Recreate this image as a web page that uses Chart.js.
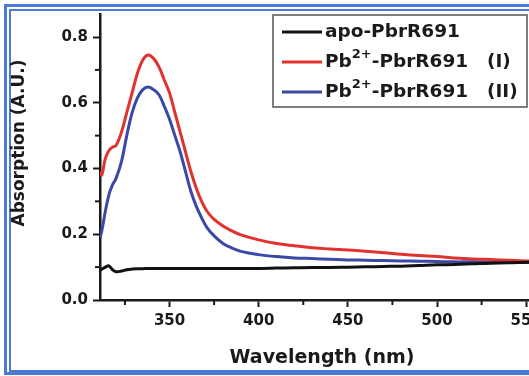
<!DOCTYPE html>
<html>
<head>
<meta charset="utf-8">
<script src="https://cdn.jsdelivr.net/npm/chart.js@4.4.1/dist/chart.umd.min.js"></script>
<style>
  html, body { margin: 0; padding: 0; background: #fff; }
  #wrap { position: relative; width: 529px; height: 376px; overflow: hidden; background: #fff; }
  .frame { position: absolute; box-sizing: border-box; border-style: solid; border-color: #4a79d6; }
  #outer { left: 4px; top: 4px; width: 700px; height: 371px; border-width: 3px; }
  #inner { left: 9px; top: 9px; width: 700px; height: 363px; border-width: 2px; }
  #c { position: absolute; left: 0; top: 0; }
</style>
</head>
<body>
<div id="wrap">
  <div class="frame" id="outer"></div>
  <div class="frame" id="inner"></div>
  <canvas id="c" width="560" height="376"></canvas>
</div>
<script>
// ── UV-vis absorption spectra ──

const wavelength = [311,312,314,316,318,320,323,326,329,332,335,338,341,344,347,350,353,356,359,362,365,368,371,375,380,385,390,400,410,420,430,440,450,460,470,480,490,500,510,520,530,540,550,560];
const apo   = [0.092,0.094,0.100,0.104,0.092,0.086,0.088,0.092,0.094,0.095,0.095,0.096,0.096,0.096,0.096,0.096,0.096,0.096,0.096,0.096,0.096,0.096,0.096,0.096,0.096,0.096,0.096,0.096,0.097,0.098,0.099,0.099,0.100,0.101,0.102,0.103,0.105,0.107,0.108,0.110,0.112,0.113,0.115,0.116];
const pbI   = [0.390,0.380,0.430,0.455,0.465,0.470,0.510,0.570,0.630,0.690,0.730,0.745,0.735,0.710,0.670,0.630,0.570,0.510,0.450,0.390,0.340,0.300,0.270,0.245,0.225,0.210,0.198,0.183,0.172,0.165,0.159,0.155,0.152,0.148,0.144,0.139,0.135,0.132,0.128,0.125,0.123,0.121,0.119,0.118];
const pbII  = [0.190,0.210,0.270,0.320,0.350,0.370,0.420,0.500,0.570,0.615,0.640,0.648,0.640,0.625,0.590,0.550,0.500,0.450,0.390,0.330,0.285,0.250,0.220,0.195,0.172,0.158,0.148,0.138,0.132,0.128,0.126,0.124,0.122,0.121,0.120,0.119,0.118,0.117,0.116,0.116,0.115,0.115,0.114,0.114];

const xMajor = [350,400,450,500,550];
const xMinor = [325,375,425,475,525];
const yMajor = [0,0.2,0.4,0.6,0.8];
const yMinor = [0.1,0.3,0.5,0.7];

const FONT = '"DejaVu Sans", sans-serif';
const INK = '#1a1a1a';

const series = [
  { label: 'apo-PbrR691', data: apo, color: '#111111' },
  { label: 'Pb|2+|-PbrR691|(I)', data: pbI, color: '#e0332f' },
  { label: 'Pb|2+|-PbrR691|(II)', data: pbII, color: '#3a48a8' }
];

const extras = {
  id: 'extras',
  afterDraw(chart) {
    const ctx = chart.ctx, x = chart.scales.x, y = chart.scales.y;
    ctx.save();
    // minor ticks
    ctx.strokeStyle = INK; ctx.lineWidth = 2;
    xMinor.forEach(v => {
      const px = x.getPixelForValue(v);
      ctx.beginPath(); ctx.moveTo(px, x.top); ctx.lineTo(px, x.top + 5); ctx.stroke();
    });
    yMinor.forEach(v => {
      const py = y.getPixelForValue(v);
      ctx.beginPath(); ctx.moveTo(y.right, py); ctx.lineTo(y.right - 5, py); ctx.stroke();
    });
    // axis titles
    ctx.fillStyle = INK;
    ctx.textAlign = 'center'; ctx.textBaseline = 'middle';
    ctx.font = 'bold 19px ' + FONT;
    ctx.fillText('Wavelength (nm)', 322, 358);
    ctx.translate(20, 143); ctx.rotate(-Math.PI / 2);
    ctx.font = 'bold 17px ' + FONT;
    ctx.fillText('Absorption (A.U.)', 0, 0);
    ctx.restore();

    // legend box
    ctx.save();
    ctx.fillStyle = '#fff';
    ctx.fillRect(273, 15, 254, 92);
    ctx.strokeStyle = '#555'; ctx.lineWidth = 1.5;
    ctx.strokeRect(273, 15, 254, 92);
    series.forEach((s, i) => {
      const ry = 32 + i * 30;
      ctx.strokeStyle = s.color; ctx.lineWidth = 3;
      ctx.beginPath(); ctx.moveTo(282, ry); ctx.lineTo(322, ry); ctx.stroke();
      ctx.fillStyle = INK; ctx.textBaseline = 'middle'; ctx.textAlign = 'left';
      const parts = s.label.split('|');
      let tx = 325;
      ctx.font = 'bold 18.5px ' + FONT;
      if (parts.length === 1) {
        ctx.fillText(parts[0], tx, ry);
      } else {
        ctx.fillText(parts[0], tx, ry); tx += ctx.measureText(parts[0]).width;
        ctx.font = 'bold 13px ' + FONT;
        ctx.fillText(parts[1], tx, ry - 7); tx += ctx.measureText(parts[1]).width;
        ctx.font = 'bold 18.5px ' + FONT;
        ctx.fillText(parts[2], tx, ry);
        ctx.fillText(parts[3], 487, ry);
      }
    });
    ctx.restore();
  }
};

new Chart(document.getElementById('c').getContext('2d'), {
  type: 'line',
  data: {
    datasets: series.map(s => ({
      label: s.label,
      data: wavelength.map((w, i) => ({ x: w, y: s.data[i] })),
      borderColor: s.color, borderWidth: 3, pointRadius: 0, tension: 0.4, fill: false
    }))
  },
  options: {
    responsive: false, animation: false,
    layout: { padding: { top: 10, right: 16, left: 0, bottom: 0 } },
    plugins: { legend: { display: false }, tooltip: { enabled: false } },
    scales: {
      x: {
        type: 'linear', min: 311, max: 560,
        afterBuildTicks: s => { s.ticks = xMajor.map(v => ({ value: v })); },
        afterFit: s => { s.height = 76; },
        ticks: { font: { family: FONT, size: 15, weight: 'bold' }, color: INK, padding: 5, maxRotation: 0, autoSkip: false, callback: v => v },
        grid: { drawOnChartArea: false, drawTicks: true, tickLength: 7, tickWidth: 2, tickColor: INK },
        border: { color: INK, width: 2.5 }
      },
      y: {
        min: 0, max: 0.87,
        afterBuildTicks: s => { s.ticks = yMajor.map(v => ({ value: v })); },
        afterFit: s => { s.width = 100; },
        ticks: { font: { family: FONT, size: 15, weight: 'bold' }, color: INK, padding: 5, callback: v => v.toFixed(1) },
        grid: { drawOnChartArea: false, drawTicks: true, tickLength: 7, tickWidth: 2, tickColor: INK },
        border: { color: INK, width: 2.5 }
      }
    }
  },
  plugins: [extras]
});
</script>
</body>
</html>
